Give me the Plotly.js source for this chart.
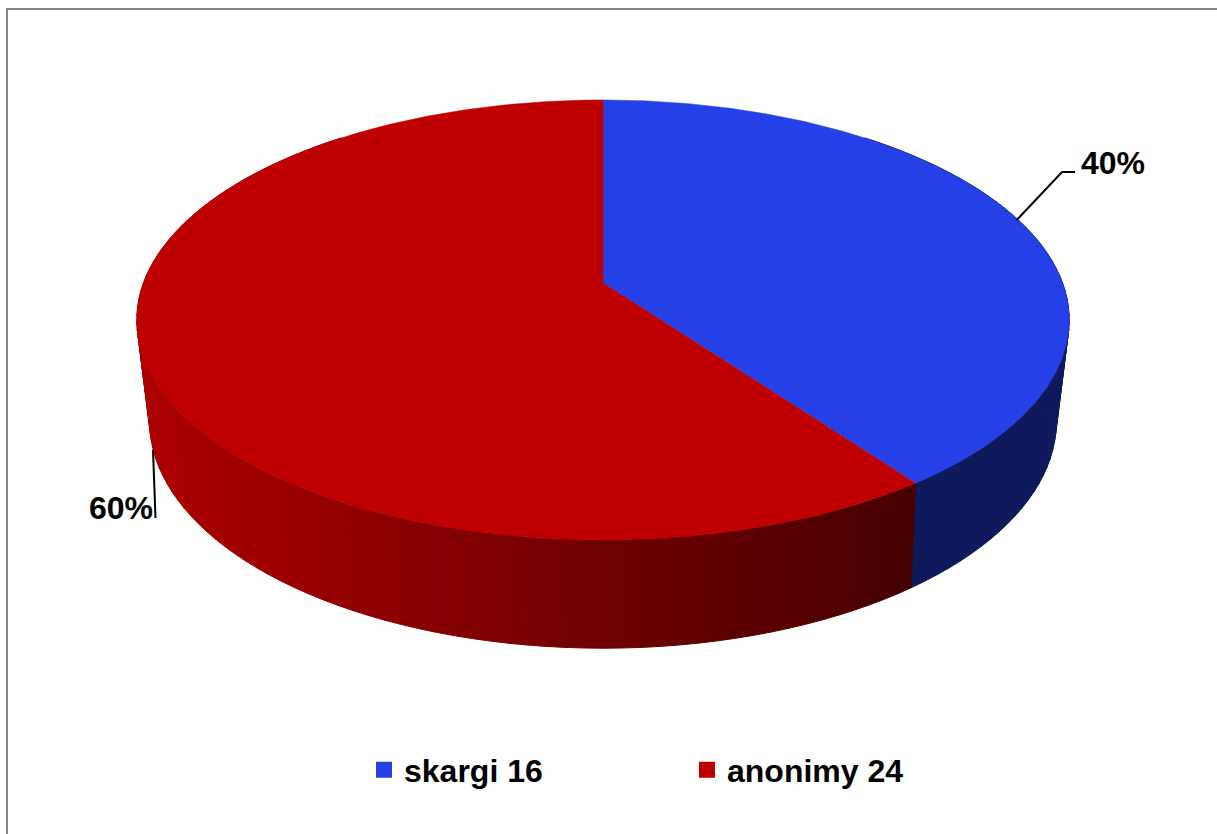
<!DOCTYPE html>
<html>
<head>
<meta charset="utf-8">
<script src="https://cdn.plot.ly/plotly-3.0.1.min.js"></script>
<style>html,body{margin:0;padding:0;background:#fff;overflow:hidden}#chart{width:1217px;height:834px}</style>
</head>
<body>
<div id="chart"></div>
<script>
// Data
const categories = ["skargi", "anonimy"];
const values = [16, 24];

// Styles
const topColors = ["#2540E6", "#BE0000"];
const FONT = "Liberation Sans, Arial, sans-serif";

// Perspective model of the disc
const cx = 603;
const topRim = {y0: 283, a: 459.6, b: 213.8, k: 0.168};
const lowRim = {y0: 379.5, a: 445.5, b: 219, k: 0.185};
function rim(r, deg) {
  const t = deg * Math.PI / 180, u = Math.sin(t), v = Math.cos(t), w = 1 + r.k * v;
  return [cx + r.a * u / w, r.y0 - r.b * v / w];
}
function arc(r, d0, d1) {
  const n = Math.max(2, Math.ceil(Math.abs(d1 - d0) * 2)), pts = [];
  for (let i = 0; i <= n; i++) pts.push(rim(r, d0 + (d1 - d0) * i / n));
  return pts;
}
function poly(pts, color, lw) {
  return {
    x: pts.map(p => p[0]), y: pts.map(p => p[1]), mode: "lines", fill: "toself",
    fillcolor: color, line: {color: color, width: lw === undefined ? 1 : lw},
    hoverinfo: "skip", showlegend: false
  };
}
function mix(c0, c1, f) {
  return "rgb(" + c0.map((c, i) => Math.round(c + (c1[i] - c) * f)).join(",") + ")";
}

const total = values.reduce((a, b) => a + b, 0);
const split = values[0] / total * 360;
const traces = [];

// Side wall: painted back to front, in narrow shaded bands
const bandStep = 2;
function bandColor(mid) {
  if (mid < split) return "#0E1A5C";
  const x = rim(topRim, mid)[0];
  return mix([172, 0, 0], [70, 0, 0], Math.min(1, Math.max(0, (x - 150) / 765)));
}
function band(d0, d1) {
  const pts = arc(topRim, d0, d1).concat(arc(lowRim, d1, d0));
  pts.push(pts[0]);
  return poly(pts, bandColor((d0 + d1) / 2));
}
for (let d = 40; d < split; d += bandStep) traces.push(band(d, Math.min(split, d + bandStep)));
for (let d = 320; d > split; d -= bandStep) traces.push(band(Math.max(split, d - bandStep), d));

// Top faces
let start = 0;
values.forEach((v, i) => {
  const sweep = v / total * 360;
  const pts = [[cx, topRim.y0]].concat(arc(topRim, start, start + sweep));
  pts.push([cx, topRim.y0]);
  traces.push(poly(pts, topColors[i], 0.5));
  start += sweep;
});

// Leader lines
const lineStyle = {color: "#000", width: 2};
const a40 = rim(topRim, split / 2);
traces.push({x: [a40[0] - 2, 1062, 1075], y: [a40[1], 172, 172], mode: "lines", line: lineStyle, hoverinfo: "skip", showlegend: false});
traces.push({x: [153, 155.5], y: [450, 518], mode: "lines", line: lineStyle, hoverinfo: "skip", showlegend: false});

// Legend entries
categories.forEach((c, i) => traces.push({
  x: [null], y: [null], mode: "markers", name: c + " " + values[i],
  marker: {symbol: "square", size: 17, color: topColors[i]}, hoverinfo: "skip"
}));

const pct = values.map(v => Math.round(v / total * 100) + "%");
const labelFont = {family: FONT, size: 32, color: "#000", weight: 700};
const border = {color: "#868686", width: 2};

const layout = {
  width: 1217, height: 834,
  margin: {l: 0, r: 0, t: 0, b: 0, autoexpand: false},
  paper_bgcolor: "#fff", plot_bgcolor: "#fff",
  xaxis: {range: [0, 1217], visible: false, fixedrange: true},
  yaxis: {range: [834, 0], visible: false, fixedrange: true},
  showlegend: true,
  legend: {
    orientation: "h", x: 364 / 1217, xanchor: "left", y: 1 - 770 / 834, yanchor: "middle",
    entrywidth: 278, entrywidthmode: "pixels", font: {family: FONT, size: 32, color: "#000", weight: 700},
    bgcolor: "rgba(0,0,0,0)", traceorder: "normal", itemclick: false, itemdoubleclick: false
  },
  annotations: [
    {x: 1112.5, y: 163, xref: "x", yref: "y", text: pct[0], showarrow: false, font: labelFont},
    {x: 120.5, y: 508, xref: "x", yref: "y", text: pct[1], showarrow: false, font: labelFont}
  ],
  shapes: [
    {type: "line", xref: "x", yref: "y", x0: 7, x1: 7, y0: 8, y1: 834, line: border},
    {type: "line", xref: "x", yref: "y", x0: 6, x1: 1217, y0: 9, y1: 9, line: border}
  ]
};
Plotly.newPlot("chart", traces, layout, {displayModeBar: false});
</script>
</body>
</html>
